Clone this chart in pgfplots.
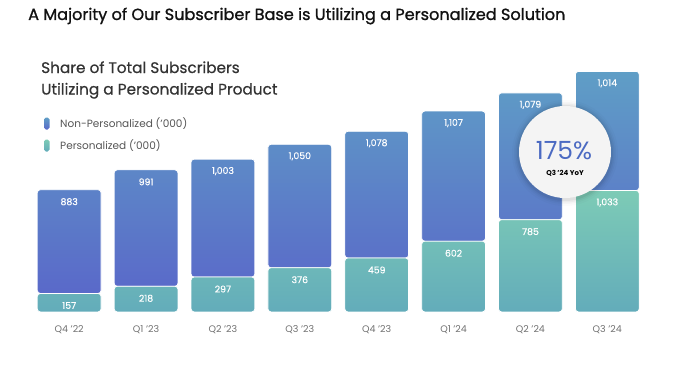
\documentclass[border=0pt]{standalone}
\usepackage{fontspec}
\setmainfont{Poppins}
\newfontfamily\titlefont[FakeBold=1.2]{Poppins}
\newfontfamily\subfont[FakeBold=0.6]{Poppins}
\newfontfamily\labfont[FakeBold=0.3]{Poppins}
\usepackage{pgfplots}
\pgfplotsset{compat=1.18}
\usepackage{pgfplotstable}
\definecolor{bluetop}{HTML}{5F9EC6}
\definecolor{bluebot}{HTML}{5A69C9}
\definecolor{greentop}{HTML}{7DCBB6}
\definecolor{greenbot}{HTML}{63ACBA}
\definecolor{ticktext}{HTML}{707070}
\definecolor{legtext}{HTML}{555555}
\definecolor{pctblue}{HTML}{4B6AC2}
\definecolor{titletext}{HTML}{111111}
\definecolor{subtext}{HTML}{333333}
\definecolor{circfill}{HTML}{F4F4F4}

\pgfplotstableread{
idx p np
0 157 883
1 218 991
2 297 1003
3 376 1050
4 459 1078
5 602 1107
6 785 1079
7 1033 1014
}\subs

\begin{document}
\begin{tikzpicture}[x=1pt,y=1pt]
\useasboundingbox (0,0) rectangle (695,373);
\node[anchor=base west, inner sep=0, text=titletext, font=\titlefont\fontsize{16.1}{18}\selectfont] at (28,353) {A Majority of Our Subscriber Base is Utilizing a Personalized Solution};
\node[anchor=base west, inner sep=0, text=subtext, font=\subfont\fontsize{15.3}{18}\selectfont] at (41,300) {Share of Total Subscribers};
\node[anchor=base west, inner sep=0, text=subtext, font=\subfont\fontsize{15.3}{18}\selectfont] at (41,278.5) {Utilizing a Personalized Product};
% legend
\shade[top color=bluetop, bottom color=bluebot, rounded corners=1.8pt] (44,243.5) rectangle (49.5,255.5);
\node[anchor=west, inner sep=0, text=legtext, font=\fontsize{10.5}{12}\selectfont] at (60,249.5) {Non-Personalized (’000)};
\shade[top color=greentop, bottom color=greenbot, rounded corners=1.8pt] (44,221.5) rectangle (49.5,233.5);
\node[anchor=west, inner sep=0, text=legtext, font=\fontsize{10.5}{12}\selectfont] at (60,227.5) {Personalized (’000)};

\begin{axis}[at={(40,52)}, anchor=south west, scale only axis,
  width=615pt, height=282pt,
  xmin=-0.5, xmax=7.5, ymin=0, ymax=2400,
  ybar stacked, bar width=0.83,
  axis line style={draw=none}, ytick=\empty,
  xtick={0,...,7},
  xticklabels={Q4 ’22, Q1 ’23, Q2 ’23, Q3 ’23, Q4 ’23, Q1 ’24, Q2 ’24, Q3 ’24},
  major tick length=0,
  xticklabel style={font=\fontsize{9.5}{11}\selectfont, text=ticktext, yshift=-10pt},
  clip=false,
  /pgf/number format/assume math mode=true,
  /pgf/number format/1000 sep={,},
  point meta=explicit,
  nodes near coords,
  every node near coord/.append style={anchor=center, text=white, font=\labfont\fontsize{9.3}{11}\selectfont},
]
\addplot[top color=greentop, bottom color=greenbot, draw=white, line width=0.8pt, rounded corners=3pt,
  visualization depends on={\thisrow{p} \as \segh},
  every node near coord/.append style={yshift={\segh*0.05875-12}}]
  table[x=idx, y=p, meta=p] {\subs};
\addplot[top color=bluetop, bottom color=bluebot, draw=white, line width=0.8pt, rounded corners=3pt,
  visualization depends on={\thisrow{np} \as \segh},
  every node near coord/.append style={yshift={\segh*0.05875-12}}]
  table[x=idx, y=np, meta=np] {\subs};
\end{axis}

% callout circle
\foreach \r/\o in {53/0.015, 51/0.025, 49.5/0.035, 48/0.05} {
  \fill[black, opacity=\o] (565,220) circle (\r);
}
\fill[circfill] (565,221) circle (46);
\node[text=pctblue, font=\fontsize{25}{28}\selectfont, inner sep=0] at (564,222) {175\%};
\node[text=black, font=\bfseries\fontsize{7}{8}\selectfont, inner sep=0] at (565,200) {Q3 ’24 YoY};
\end{tikzpicture}
\end{document}
